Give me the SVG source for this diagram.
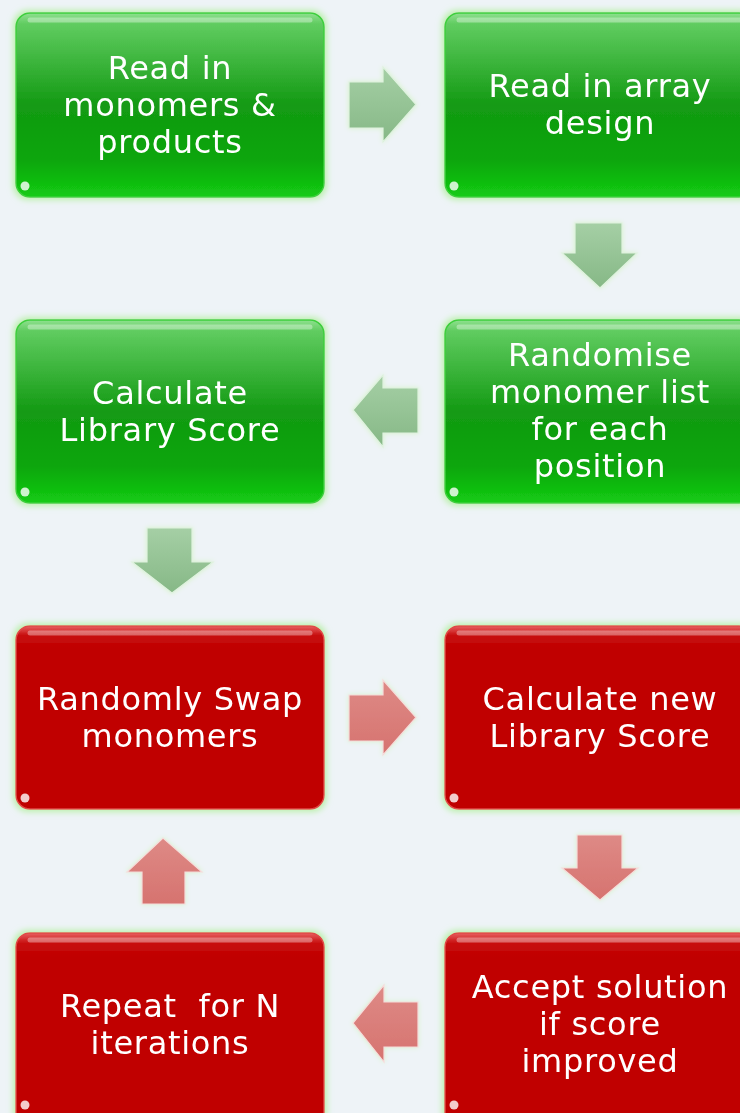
<svg xmlns="http://www.w3.org/2000/svg" width="740" height="1113" viewBox="0 0 740 1113">
<defs>
<linearGradient id="gGreen" x1="0" y1="0" x2="0" y2="1">
<stop offset="0" stop-color="#8fe08f"/>
<stop offset="0.06" stop-color="#60cc60"/>
<stop offset="0.5" stop-color="#139a13"/>
<stop offset="0.8" stop-color="#0aa60a"/>
<stop offset="1" stop-color="#14cc14"/>
</linearGradient>
<linearGradient id="gRed" x1="0" y1="0" x2="0" y2="1">
<stop offset="0" stop-color="#e86060"/>
<stop offset="0.05" stop-color="#c81010"/>
<stop offset="0.12" stop-color="#c00000"/>
<stop offset="1" stop-color="#c00000"/>
</linearGradient>
<linearGradient id="gArrG" x1="0" y1="0" x2="0" y2="1">
<stop offset="0" stop-color="#a5cfa5"/>
<stop offset="1" stop-color="#86b886"/>
</linearGradient>
<linearGradient id="gArrR" x1="0" y1="0" x2="0" y2="1">
<stop offset="0" stop-color="#de8a86"/>
<stop offset="1" stop-color="#d6736f"/>
</linearGradient>
<filter id="glowG" x="-10%" y="-10%" width="120%" height="120%">
<feMorphology in="SourceAlpha" operator="dilate" radius="2" result="d"/>
<feGaussianBlur in="d" stdDeviation="3" result="b"/>
<feFlood flood-color="#b8f0a8"/>
<feComposite in2="b" operator="in" result="g"/>
<feMerge><feMergeNode in="g"/><feMergeNode in="SourceGraphic"/></feMerge>
</filter>
<filter id="glowA" x="-20%" y="-20%" width="140%" height="140%">
<feGaussianBlur in="SourceAlpha" stdDeviation="2.5" result="b"/>
<feFlood flood-color="#d8f4cc"/>
<feComposite in2="b" operator="in" result="g"/>
<feMerge><feMergeNode in="g"/><feMergeNode in="SourceGraphic"/></feMerge>
</filter>
</defs>
<style>
.bg{fill:#eef3f7}
.boxG{fill:url(#gGreen);stroke:#3ccf3c;stroke-width:1.5}
.boxR{fill:url(#gRed);stroke:#e04848;stroke-width:1.5}
.hl{fill:none;stroke:#ffffff;stroke-opacity:0.35;stroke-width:5;stroke-linecap:round}
.spec{fill:#ffffff;fill-opacity:0.8}
.t{font-family:"DejaVu Sans",Verdana,sans-serif;font-size:32px;fill:#ffffff;text-anchor:middle;letter-spacing:0.7px}
.aG{fill:url(#gArrG);stroke:#dff2df;stroke-width:1.2}
.aR{fill:url(#gArrR);stroke:#f6dcdc;stroke-width:1.2}
</style>
<rect class="bg" x="0" y="0" width="740" height="1113"/>

<g id="node1" filter="url(#glowG)">
<rect class="boxG" x="16" y="13" width="308" height="184" rx="14"/>
<path class="hl" d="M30,20 H310"/>
<circle class="spec" cx="25" cy="186" r="4.5"/>
<text class="t" x="170" y="79">Read in</text>
<text class="t" x="170" y="116">monomers &amp;</text>
<text class="t" x="170" y="153">products</text>
</g>
<g id="node2" filter="url(#glowG)">
<rect class="boxG" x="445" y="13" width="308" height="184" rx="14"/>
<path class="hl" d="M459,20 H740"/>
<circle class="spec" cx="454" cy="186" r="4.5"/>
<text class="t" x="600" y="97">Read in array</text>
<text class="t" x="600" y="134">design</text>
</g>
<g id="node3" filter="url(#glowG)">
<rect class="boxG" x="445" y="320" width="308" height="183" rx="14"/>
<path class="hl" d="M459,327 H740"/>
<circle class="spec" cx="454" cy="492" r="4.5"/>
<text class="t" x="600" y="366">Randomise</text>
<text class="t" x="600" y="403">monomer list</text>
<text class="t" x="600" y="440">for each</text>
<text class="t" x="600" y="477">position</text>
</g>
<g id="node4" filter="url(#glowG)">
<rect class="boxG" x="16" y="320" width="308" height="183" rx="14"/>
<path class="hl" d="M30,327 H310"/>
<circle class="spec" cx="25" cy="492" r="4.5"/>
<text class="t" x="170" y="404">Calculate</text>
<text class="t" x="170" y="441">Library Score</text>
</g>
<g id="node5" filter="url(#glowG)">
<rect class="boxR" x="16" y="626" width="308" height="183" rx="14"/>
<path class="hl" d="M30,633 H310"/>
<circle class="spec" cx="25" cy="798" r="4.5"/>
<text class="t" x="170" y="710">Randomly Swap</text>
<text class="t" x="170" y="747">monomers</text>
</g>
<g id="node6" filter="url(#glowG)">
<rect class="boxR" x="445" y="626" width="308" height="183" rx="14"/>
<path class="hl" d="M459,633 H740"/>
<circle class="spec" cx="454" cy="798" r="4.5"/>
<text class="t" x="600" y="710">Calculate new</text>
<text class="t" x="600" y="747">Library Score</text>
</g>
<g id="node7" filter="url(#glowG)">
<rect class="boxR" x="445" y="933" width="308" height="200" rx="14"/>
<path class="hl" d="M459,940 H740"/>
<circle class="spec" cx="454" cy="1105" r="4.5"/>
<text class="t" x="600" y="998">Accept solution</text>
<text class="t" x="600" y="1035">if score</text>
<text class="t" x="600" y="1072">improved</text>
</g>
<g id="node8" filter="url(#glowG)">
<rect class="boxR" x="16" y="933" width="308" height="200" rx="14"/>
<path class="hl" d="M30,940 H310"/>
<circle class="spec" cx="25" cy="1105" r="4.5"/>
<text class="t" x="170" y="1017" xml:space="preserve">Repeat  for N</text>
<text class="t" x="170" y="1054">iterations</text>
</g>

<g id="connectors" filter="url(#glowA)">
<path class="aG" d="M349,82 H383 V67 L416,104.5 L383,142 V128 H349 Z"/>
<path class="aG" d="M575,223 H622 V253 H637 L600,288 L562,253 H575 Z"/>
<path class="aG" d="M418,388 H383 V375 L353,410 L383,447 V433 H418 Z"/>
<path class="aG" d="M147,528 H192 V562 H213 L172,593 L132,562 H147 Z"/>
<path class="aR" d="M349,695 H383 V680 L416,717.5 L383,755 V741 H349 Z"/>
<path class="aR" d="M577,835 H622 V868 H638 L600,900 L562,868 H577 Z"/>
<path class="aR" d="M142,904 H185 V872 H202 L163,838 L127,872 H142 Z"/>
<path class="aR" d="M418,1002 H384 V985 L353,1023 L384,1062 V1047 H418 Z"/>
</g>
</svg>
